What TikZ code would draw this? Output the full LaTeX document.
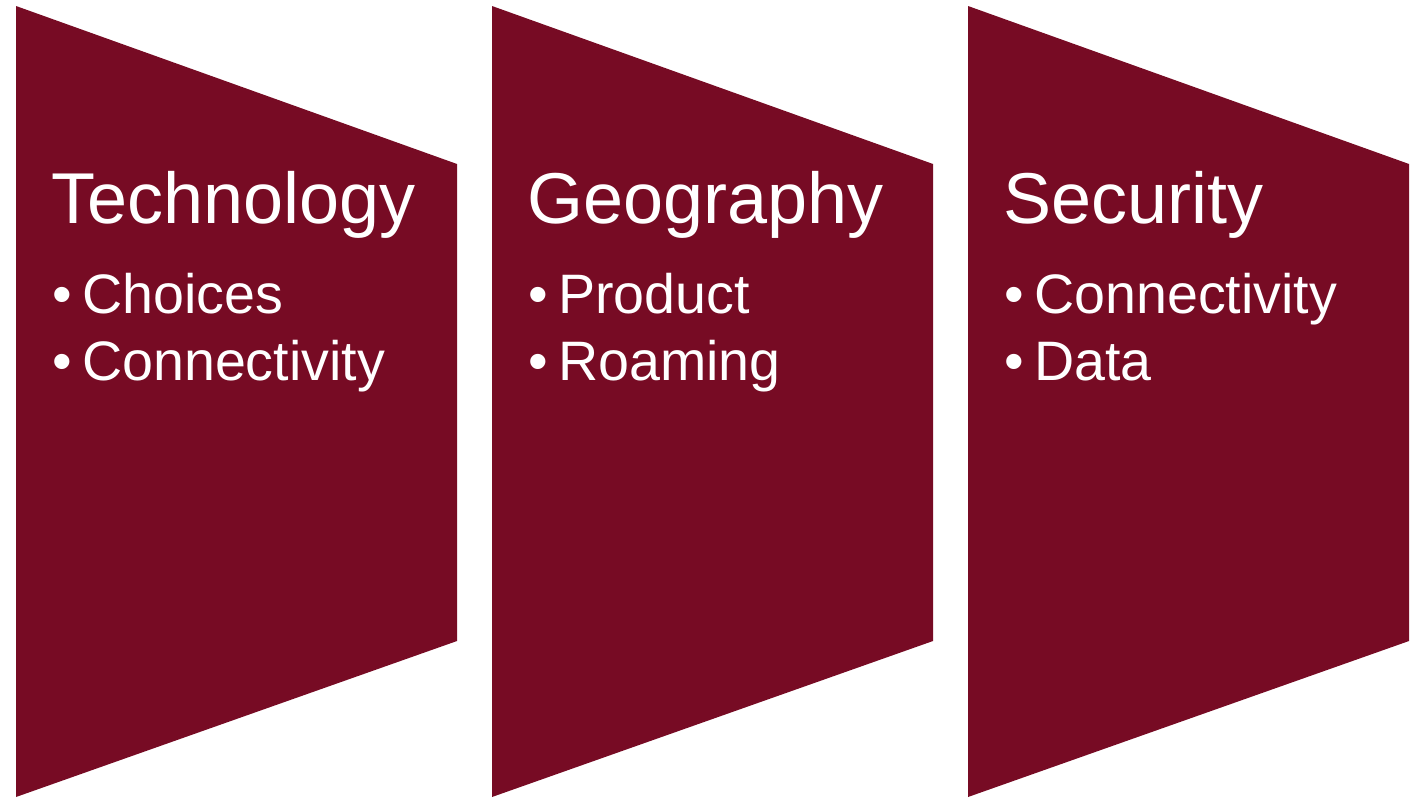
\documentclass[tikz,border=0pt]{standalone}
\usepackage{fontspec}
\setmainfont{Liberation Sans}
\definecolor{maroon}{RGB}{119,11,36}
\begin{document}
\begin{tikzpicture}[x=1pt,y=-1pt,
  panel/.style={fill=maroon},
  title/.style={anchor=base west,inner sep=0pt,text=white,font=\fontsize{72}{72}\selectfont},
  item/.style={anchor=base west,inner sep=0pt,text=white,font=\fontsize{55.6}{56}\selectfont},
  dot/.style={anchor=base west,inner sep=0pt,text=white,font=\fontsize{56}{56}\selectfont}]
\useasboundingbox (0,0) rectangle (1412,798);
\foreach \dx in {0,476,952}{
  \fill[panel] (16+\dx,6) -- (457+\dx,164) -- (457+\dx,641) -- (16+\dx,797) -- cycle;
}
% Panel 1
\node[title] (t1) at (51,223) {Technology};
\node[dot] (b11) at (52,313) {•};
\node[item] (i11) at (82,313) {Choices};
\node[dot] (b12) at (52,380) {•};
\node[item] (i12) at (82,380) {Connectivity};
% Panel 2
\node[title] (t2) at (527,223) {Geography};
\node[dot] (b21) at (528,313) {•};
\node[item] (i21) at (558,313) {Product};
\node[dot] (b22) at (528,380) {•};
\node[item] (i22) at (558,380) {Roaming};
% Panel 3
\node[title] (t3) at (1003,223) {Security};
\node[dot] (b31) at (1004,313) {•};
\node[item] (i31) at (1034,313) {Connectivity};
\node[dot] (b32) at (1004,380) {•};
\node[item] (i32) at (1034,380) {Data};
\end{tikzpicture}
\end{document}
